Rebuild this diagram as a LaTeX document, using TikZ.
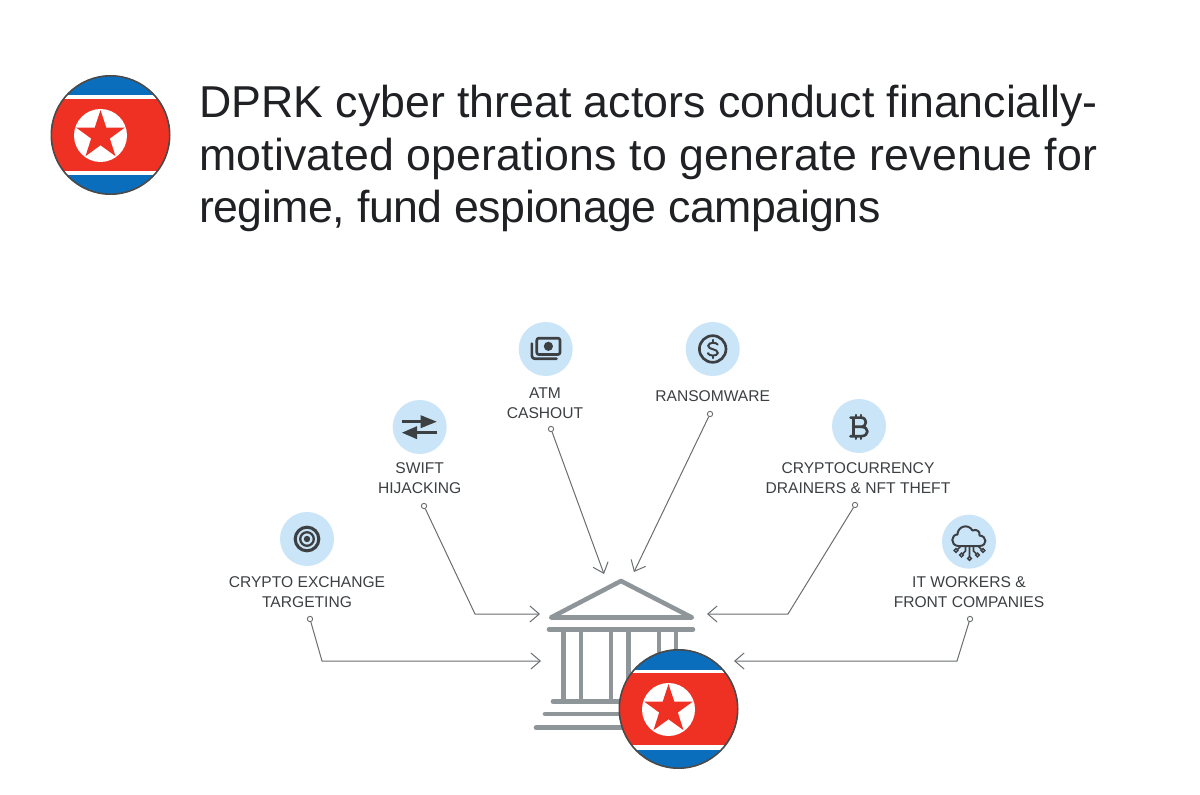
\documentclass[tikz,border=0pt]{standalone}
\usepackage{fontspec}
\setmainfont{Liberation Sans}
\usetikzlibrary{arrows.meta}
\definecolor{fblue}{HTML}{0A6EBD}
\definecolor{fred}{HTML}{EF3124}
\definecolor{ring}{HTML}{4A4A4A}
\definecolor{bankgray}{HTML}{8E9699}
\definecolor{iconbg}{HTML}{CBE5F8}
\definecolor{ink}{HTML}{3C4043}
\definecolor{titleink}{HTML}{202124}
\definecolor{wire}{HTML}{6A6E70}
\tikzset{
  x=0.75pt,y=-0.75pt,
  titletext/.style={anchor=north west,align=left,inner sep=0pt,text=titleink,font=\fontsize{33.5pt}{39.4pt}\selectfont},
  lab/.style={align=center,inner sep=0pt,text=ink,font=\fontsize{11.7pt}{15pt}\selectfont},
  iconc/.style={circle,fill=iconbg,minimum size=40.5pt,inner sep=0pt},
  pin/.style={circle,draw=wire,fill=white,line width=0.7pt,minimum size=4pt,inner sep=0pt},
  wirearrow/.style={draw=wire,line width=0.75pt,-{Straight Barb[length=7pt,width=12pt,line width=0.75pt]}},
  bankline/.style={draw=bankgray,line width=3.4pt,line cap=round,line join=round},
  iconline/.style={draw=ink,line width=2pt,line cap=round,line join=round},
  pics/dprk/.style={code={
    \fill[fblue] (0,0) circle (59.5);
    \begin{scope}
      \clip (0,0) circle (59.5);
      \fill[white] (-60,-39.5) rectangle (60,40.5);
      \fill[fred] (-60,-36) rectangle (60,36);
    \end{scope}
    \draw[ring,line width=1.2pt] (0,0) circle (59.2);
    \begin{scope}[shift={(-10,0.5)}]
      \fill[white] (0,0) circle (26.5);
      \fill[fred] (-90:25.5) -- (-54:9.8) -- (-18:25.5) -- (18:9.8) -- (54:25.5) -- (90:9.8) -- (126:25.5) -- (162:9.8) -- (198:25.5) -- (234:9.8) -- cycle;
    \end{scope}
  }}
}
\begin{document}
\begin{tikzpicture}
\useasboundingbox (0,0) rectangle (1200,795);
\fill[white] (0,0) rectangle (1200,795);

\pic at (110.5,135) {dprk};
\node[titletext] (title) at (199,85) {DPRK cyber threat actors conduct financially-\\{\addfontfeature{LetterSpace=0.4}motivated operations to generate revenue for}\\{\addfontfeature{LetterSpace=-1.1}regime, fund espionage campaigns}};

% icon discs
\node[iconc] (ic1) at (307,539) {};
\node[iconc] (ic2) at (419.7,427) {};
\node[iconc] (ic3) at (545.7,349) {};
\node[iconc] (ic4) at (712.7,349) {};
\node[iconc] (ic5) at (859,426) {};
\node[iconc] (ic6) at (969,541.7) {};

% labels
\node[lab] (l1) at (307,592) {CRYPTO EXCHANGE\\TARGETING};
\node[lab] (l2) at (419.7,478) {SWIFT\\HIJACKING};
\node[lab] (l3) at (545,403) {ATM\\CASHOUT};
\node[lab] (l4) at (712.7,396) {RANSOMWARE};
\node[lab] (l5) at (858,478) {CRYPTOCURRENCY\\DRAINERS \& NFT THEFT};
\node[lab] (l6) at (969,592) {IT WORKERS \&\\FRONT COMPANIES};

% target
\draw[ink,line width=2.3pt] (ic1.center) circle (11.8);
\draw[ink,line width=1.7pt] (ic1.center) circle (6.8);
\fill[ink] (ic1.center) circle (3.2);

% swift arrows
\draw[ink,line width=1.9pt] (401.7,421.7) -- (424,421.7);
\fill[ink] (436.7,421.7) -- (420.7,415.2) -- (420.7,428.2) -- cycle;
\draw[ink,line width=1.9pt] (437,432.7) -- (414,432.7);
\fill[ink] (402,432.7) -- (417,426.2) -- (417,439.2) -- cycle;

% ATM
\draw[iconline] (531.9,343.5) -- (531.9,356) to[out=-90,in=180] (535,358.8) -- (556.5,358.8);
\draw[iconline,rounded corners=1.5pt] (536.8,338.2) rectangle (560,354.5);
\fill[ink] (548.4,346.3) circle (4.6);

% dollar
\draw[iconline] (ic4.center) circle (13.3);
\draw[ink,line width=1.5pt,line cap=round] (717.7,344.6) .. controls (716.5,342.2) and (708.7,341.8) .. (708.2,345.7) .. controls (708,350) and (718,348.5) .. (717.8,353) .. controls (717.3,356.5) and (708.8,356.3) .. (707.8,353.2);
\draw[ink,line width=1.5pt,line cap=round] (712.7,339.8) -- (712.7,341.8) (712.7,356) -- (712.7,358.2);

% bitcoin
\draw[iconline] (850.5,417.6) -- (861,417.6) .. controls (867.5,417.6) and (867.5,426.8) .. (861,426.8) -- (853.5,426.8) (861,426.8) .. controls (869.5,426.8) and (869.5,436.2) .. (861,436.2) -- (850.5,436.2) (853.5,417.6) -- (853.5,436.2);
\draw[iconline,line width=1.5pt] (855.8,414.8) -- (855.8,417.6) (861,414.8) -- (861,417.6) (855.8,436.2) -- (855.8,439) (861,436.2) -- (861,439);

% cloud
\draw[ink,line width=1.5pt,line join=round] (958,546) .. controls (950,545) and (951,534.5) .. (957.5,534.5) .. controls (957.5,526.5) and (968,523) .. (972.5,530.5) .. controls (977,528.5) and (980.5,532) .. (979.5,535.5) .. controls (987,536) and (987.5,545.5) .. (980,546) -- cycle;
\draw[ink,line width=1.2pt] (969.5,546) -- (969.5,557) (965.5,546) -- (965.5,551) -- (962.5,554) (973.5,546) -- (973.5,551) -- (976.5,554) (961,546) -- (957.5,549.5) (978,546) -- (981.5,549.5);
\foreach \p in {(969.5,558.5),(961.5,555),(977.5,555),(956,550.5),(983,550.5)} \draw[ink,line width=1.1pt,fill=iconbg] \p circle (1.8);

% bank
\draw[bankline] (551,617.5) -- (621,581) -- (692,617.5) -- cycle;
\draw[bankline] (549,629.3) -- (693,629.3);
\foreach \cx in {563.7,581,611,628.5,659,676} \draw[bankline,line cap=butt] (\cx,629.3) -- (\cx,701.5);
\draw[bankline] (553,701.5) -- (690,701.5);
\draw[bankline] (545,714) -- (698,714);
\draw[bankline] (536,727.7) -- (707,727.7);
\coordinate (t1) at (541,661);
\coordinate (t2) at (540,614);
\coordinate (t3) at (604,574);
\coordinate (t4) at (634,572);
\coordinate (t5) at (707,614);
\coordinate (t6) at (734,661);
\pic at (678.5,709) {dprk};

% pins & connectors
\node[pin] (p1) at (310,619) {};
\node[pin] (p2) at (424,506) {};
\node[pin] (p3) at (551,429) {};
\node[pin] (p4) at (710,414) {};
\node[pin] (p5) at (855,505) {};
\node[pin] (p6) at (970,619) {};
\draw[wirearrow] (p1) -- (322,661) -- (t1);
\draw[wirearrow] (p2) -- (475,614) -- (t2);
\draw[wirearrow] (p3) -- (t3);
\draw[wirearrow] (p4) -- (t4);
\draw[wirearrow] (p5) -- (788,614) -- (t5);
\draw[wirearrow] (p6) -- (957,661) -- (t6);
\end{tikzpicture}
\end{document}
